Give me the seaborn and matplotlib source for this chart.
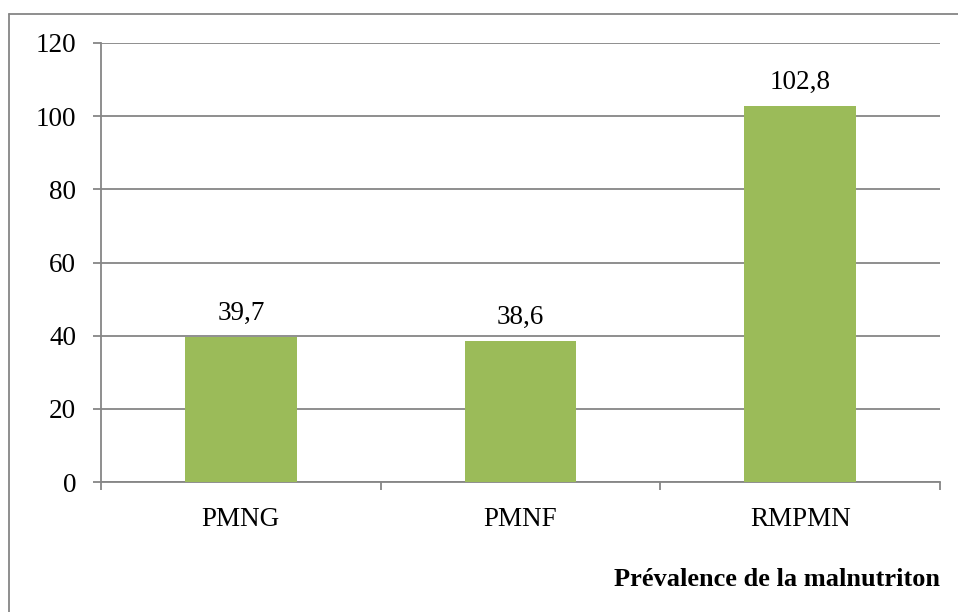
import matplotlib
matplotlib.use("Agg")
import matplotlib.pyplot as plt
from matplotlib.lines import Line2D
import seaborn as sns
import pandas as pd

categories = ["PMNG", "PMNF", "RMPMN"]
values = [39.7, 38.6, 102.8]
value_labels = ["39,7", "38,6", "102,8"]
y_ticks = [0, 20, 40, 60, 80, 100, 120]
x_title = "Prévalence de la malnutriton"

sns.set_theme(style="white")
plt.rcParams['font.family'] = 'serif'
plt.rcParams['font.serif'] = ['Liberation Serif', 'DejaVu Serif']

df = pd.DataFrame({"cat": categories, "val": values})

fig = plt.figure(figsize=(9.58, 6.12), dpi=100)
ax = fig.add_axes([101/958, 1 - 482/612, (940-101)/958, (482-43)/612])

sns.barplot(data=df, x="cat", y="val", color="#9BBB59", width=0.4,
            saturation=1, ax=ax, zorder=3, edgecolor="none", linewidth=0)

ax.set_xlim(-0.5, 2.5)
ax.set_ylim(0, 120)
ax.set_yticks(y_ticks)
ax.set_yticklabels([str(t) for t in y_ticks], fontsize=19.5, color="black")
ax.set_xticks([0, 1, 2])
ax.set_xticklabels(categories, fontsize=19.5, color="black")
ax.tick_params(axis="x", length=0, pad=18)
ax.tick_params(axis="y", length=6, width=1.3, color="#868686", pad=12, left=True)
ax.set_xticks([-0.5, 0.5, 1.5, 2.5], minor=True)
ax.tick_params(axis="x", which="minor", length=6, width=1.3, color="#868686", bottom=True, direction="out")

ax.yaxis.grid(True, color="#868686", linewidth=1.3, zorder=0)
ax.set_axisbelow(True)
for s in ["top", "right"]:
    ax.spines[s].set_visible(False)
for s in ["left", "bottom"]:
    ax.spines[s].set_color("#868686")
    ax.spines[s].set_linewidth(1.3)
ax.set_xlabel("")
ax.set_ylabel("")

for i, (v, lab) in enumerate(zip(values, value_labels)):
    ax.annotate(lab, (i, v), xytext=(0, 8), textcoords="offset points",
                ha="center", va="bottom", fontsize=19.5, color="black")

fig.text(940/958, 1 - 580/612, x_title, ha="right", va="center",
         fontsize=19, fontweight="bold", color="black")

# outer chart border
fig.add_artist(Line2D([9/958, 9/958], [0, 1 - 14/612], transform=fig.transFigure,
                      color="#868686", linewidth=1.3))
fig.add_artist(Line2D([9/958, 1.0], [1 - 14/612, 1 - 14/612], transform=fig.transFigure,
                      color="#868686", linewidth=1.3))

fig.savefig("out.png", dpi=100)
